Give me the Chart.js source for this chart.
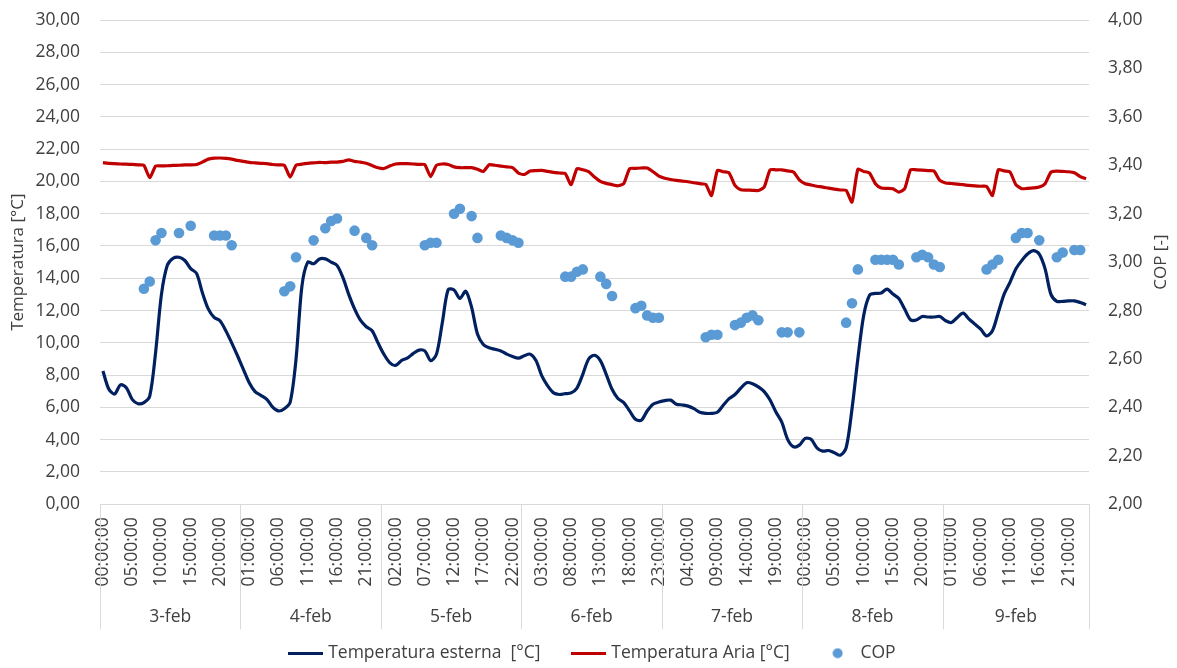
<!DOCTYPE html>
<html lang="it">
<head>
<meta charset="utf-8">
<title>Temperature e COP</title>
<script src="https://cdn.jsdelivr.net/npm/chart.js@4.4.0/dist/chart.umd.min.js"></script>
<style>
  html, body { margin: 0; padding: 0; background: #fff; }
</style>
</head>
<body>
<canvas id="grafico" width="1177" height="668"></canvas>
<script>
// giorni e numero di ore per giorno (l'ultimo gruppo ha 25 righe)
const giorni = ['3-feb', '4-feb', '5-feb', '6-feb', '7-feb', '8-feb', '9-feb'];
const oreGiorno = [24, 24, 24, 24, 24, 24, 25];

// Temperatura esterna [°C], valori orari
const tempEsterna = [
    8.26, 7.14, 6.83, 7.4, 7.22, 6.5, 6.23, 6.3, 6.7, 9.4, 13.0, 14.8, 15.24, 15.3, 15.1, 14.6, 14.3, 13.1, 12.1, 11.57, 11.37, 10.75, 10.0, 9.2,
    8.36, 7.53, 6.98, 6.75, 6.5, 6.02, 5.78, 5.92, 6.33, 9.0, 13.5, 15.0, 14.9, 15.2, 15.2, 15.0, 14.8, 14.05, 13.0, 12.1, 11.4, 11.0, 10.75, 10.0,
    9.3, 8.78, 8.6, 8.9, 9.05, 9.33, 9.55, 9.5, 8.9, 9.3, 11.26, 13.3, 13.27, 12.75, 13.2, 12.2, 10.55, 9.9, 9.7, 9.6, 9.5, 9.3, 9.15, 9.05,
    9.2, 9.3, 8.9, 7.95, 7.33, 6.9, 6.8, 6.85, 6.9, 7.2, 8.05, 9.0, 9.23, 8.9, 8.05, 7.12, 6.55, 6.3, 5.78, 5.26, 5.2, 5.78, 6.2, 6.33,
    6.42, 6.45, 6.2, 6.15, 6.08, 5.92, 5.7, 5.63, 5.63, 5.7, 6.13, 6.54, 6.8, 7.19, 7.53, 7.47, 7.27, 6.98, 6.46, 5.71, 5.09, 4.02, 3.56, 3.66,
    4.08, 4.02, 3.5, 3.29, 3.33, 3.19, 3.04, 3.5, 5.9, 9.0, 11.7, 12.95, 13.06, 13.09, 13.33, 13.02, 12.75, 12.09, 11.43, 11.41, 11.63, 11.6, 11.6, 11.63,
    11.37, 11.26, 11.57, 11.84, 11.47, 11.16, 10.85, 10.43, 10.75, 11.88, 13.02, 13.75, 14.58, 15.09, 15.5, 15.71, 15.5, 14.58, 13.0, 12.57, 12.57, 12.6, 12.6, 12.5, 12.36
];

// Temperatura Aria [°C]
const tempAria = [
    21.16, 21.12, 21.1, 21.08, 21.07, 21.05, 21.02, 20.99, 20.23, 20.95, 20.96, 20.97, 20.99, 21.0, 21.02, 21.02, 21.05, 21.2, 21.38, 21.44, 21.45, 21.43, 21.38, 21.3,
    21.24, 21.18, 21.15, 21.12, 21.1, 21.05, 21.02, 21.0, 20.27, 21.0, 21.07, 21.12, 21.15, 21.18, 21.16, 21.2, 21.2, 21.24, 21.34, 21.24, 21.2, 21.12, 20.98, 20.85,
    20.8, 20.95, 21.08, 21.1, 21.1, 21.08, 21.05, 21.04, 20.3, 21.0, 21.08, 21.05, 20.9, 20.85, 20.85, 20.85, 20.75, 20.62, 21.03, 21.0, 20.95, 20.9, 20.85, 20.52,
    20.43, 20.64, 20.67, 20.68, 20.62, 20.56, 20.52, 20.48, 19.8, 20.79, 20.72, 20.6, 20.27, 20.0, 19.88, 19.8, 19.73, 19.86, 20.79, 20.81, 20.83, 20.83, 20.6, 20.33,
    20.2, 20.12, 20.06, 20.02, 19.98, 19.92, 19.86, 19.81, 19.13, 20.68, 20.6, 20.52, 19.75, 19.48, 19.46, 19.45, 19.44, 19.65, 20.72, 20.72, 20.72, 20.65, 20.58, 20.1,
    19.86, 19.78, 19.7, 19.65, 19.58, 19.52, 19.47, 19.44, 18.72, 20.75, 20.62, 20.52, 19.86, 19.59, 19.57, 19.55, 19.34, 19.55, 20.72, 20.72, 20.7, 20.67, 20.64, 20.06,
    19.9, 19.87, 19.83, 19.8, 19.75, 19.72, 19.7, 19.69, 19.13, 20.72, 20.65, 20.58, 19.8, 19.55, 19.57, 19.6, 19.65, 19.86, 20.58, 20.64, 20.62, 20.6, 20.54, 20.3, 20.17
];

// COP [-], solo nelle ore di funzionamento
const cop = [
    null, null, null, null, null, null, null, 2.89, 2.92, 3.09, 3.12, null, null, 3.12, null, 3.15, null, null, null, 3.11, 3.11, 3.11, 3.07, null,
    null, null, null, null, null, null, null, 2.88, 2.90, 3.02, null, null, 3.09, null, 3.14, 3.17, 3.18, null, null, 3.13, null, 3.10, 3.07, null,
    null, null, null, null, null, null, null, 3.07, 3.08, 3.08, null, null, 3.20, 3.22, null, 3.19, 3.10, null, null, null, 3.11, 3.10, 3.09, 3.08,
    null, null, null, null, null, null, null, 2.94, 2.94, 2.96, 2.97, null, null, 2.94, 2.91, 2.86, null, null, null, 2.81, 2.82, 2.78, 2.77, 2.77,
    null, null, null, null, null, null, null, 2.69, 2.70, 2.70, null, null, 2.74, 2.75, 2.77, 2.78, 2.76, null, null, null, 2.71, 2.71, null, 2.71,
    null, null, null, null, null, null, null, 2.75, 2.83, 2.97, null, null, 3.01, 3.01, 3.01, 3.01, 2.99, null, null, 3.02, 3.03, 3.02, 2.99, 2.98,
    null, null, null, null, null, null, null, 2.97, 2.99, 3.01, null, null, 3.10, 3.12, 3.12, null, 3.09, null, null, 3.02, 3.04, null, 3.05, 3.05, null
];

const GRIGIO = '#D9D9D9';
const TESTO = '#404040';
const FONT = '"Open Sans", sans-serif';
const TRASPARENTE = 'rgba(0,0,0,0)';

// etichette orarie della categoria
const etichette = [];
oreGiorno.forEach(n => {
    for (let h = 0; h < n; h++) {
        etichette.push(String(h % 24).padStart(2, '0') + ':00:00');
    }
});

const virgola = v => v.toFixed(2).replace('.', ',');

// icone della legenda
function iconaLinea(colore) {
    const c = document.createElement('canvas');
    c.width = 35;
    c.height = 3;
    const g = c.getContext('2d');
    g.fillStyle = colore;
    g.fillRect(0, 0, 35, 3);
    return c;
}
function iconaPunto(colore) {
    const c = document.createElement('canvas');
    c.width = 11;
    c.height = 11;
    const g = c.getContext('2d');
    g.fillStyle = colore;
    g.beginPath();
    g.arc(5.5, 5.5, 5, 0, Math.PI * 2);
    g.fill();
    return c;
}
const iconeLegenda = [iconaLinea('#002060'), iconaLinea('#C00000'), iconaPunto('#5B9BD5')];

// secondo livello dell'asse x (giorni) e titolo dell'asse destro
const assiExtra = {
    id: 'assiExtra',
    afterDraw(chart) {
        const {ctx, chartArea, scales: {x, y1}} = chart;
        const passo = x.getPixelForValue(1) - x.getPixelForValue(0);
        const y0 = chartArea.bottom;
        ctx.save();
        ctx.strokeStyle = GRIGIO;
        ctx.lineWidth = 1;
        ctx.fillStyle = TESTO;
        ctx.font = '17.5px ' + FONT;
        ctx.textAlign = 'center';
        ctx.textBaseline = 'middle';

        const linea = px => {
            const xx = Math.round(px) + 0.5;
            ctx.beginPath();
            ctx.moveTo(xx, y0);
            ctx.lineTo(xx, y0 + 125);
            ctx.stroke();
        };

        let inizio = 0;
        giorni.forEach((g, k) => {
            const xa = x.getPixelForValue(inizio) - passo / 2;
            const xb = x.getPixelForValue(inizio + oreGiorno[k] - 1) + passo / 2;
            linea(xa);
            ctx.fillText(g, (xa + xb) / 2, y0 + 113);
            if (k === giorni.length - 1) linea(xb);
            inizio += oreGiorno[k];
        });

        ctx.font = '17px ' + FONT;
        ctx.translate(y1.right - 15.5, (chartArea.top + chartArea.bottom) / 2);
        ctx.rotate(-Math.PI / 2);
        ctx.fillText('COP [-]', 0, 0);
        ctx.restore();
    }
};

Chart.defaults.font.family = FONT;
Chart.defaults.color = TESTO;

new Chart(document.getElementById('grafico'), {
    type: 'line',
    data: {
        labels: etichette,
        datasets: [
            {
                label: 'Temperatura esterna  [°C]',
                data: tempEsterna,
                yAxisID: 'y',
                borderColor: '#002060',
                backgroundColor: '#002060',
                borderWidth: 3.2,
                pointRadius: 0,
                tension: 0.3
            },
            {
                label: 'Temperatura Aria [°C]',
                data: tempAria,
                yAxisID: 'y',
                borderColor: '#C00000',
                backgroundColor: '#C00000',
                borderWidth: 3.2,
                pointRadius: 0,
                tension: 0.2
            },
            {
                label: 'COP',
                data: cop,
                yAxisID: 'y1',
                showLine: false,
                pointRadius: 5.3,
                pointBorderWidth: 0,
                pointBackgroundColor: '#5B9BD5',
                borderColor: '#5B9BD5',
                backgroundColor: '#5B9BD5'
            }
        ]
    },
    options: {
        responsive: false,
        devicePixelRatio: 1,
        animation: false,
        layout: { padding: { left: 10, top: 20, right: 0, bottom: -4 } },
        plugins: {
            tooltip: { enabled: false },
            legend: {
                position: 'bottom',
                labels: {
                    usePointStyle: true,
                    pointStyleWidth: 28,
                    padding: 34,
                    color: TESTO,
                    font: { size: 17.5 },
                    generateLabels(chart) {
                        const voci = Chart.defaults.plugins.legend.labels.generateLabels(chart);
                        voci.forEach((v, i) => { v.pointStyle = iconeLegenda[i]; });
                        return voci;
                    }
                }
            }
        },
        scales: {
            x: {
                type: 'category',
                offset: true,
                grid: { display: false, drawTicks: false },
                border: { display: true, color: GRIGIO, width: 1 },
                ticks: {
                    autoSkip: false,
                    minRotation: 90,
                    maxRotation: 90,
                    padding: 13,
                    color: TESTO,
                    font: { size: 17.5 },
                    callback: function (v, i) {
                        return i % 5 === 0 ? this.getLabelForValue(v) : '';
                    }
                },
                afterFit: s => { s.height = 106.25; }
            },
            y: {
                position: 'left',
                min: 0,
                max: 30,
                grid: { color: GRIGIO, lineWidth: 1, drawTicks: true, tickLength: 20, tickColor: TRASPARENTE },
                border: { display: false },
                ticks: { stepSize: 2, padding: 0, color: TESTO, font: { size: 17.5 }, callback: v => virgola(v) },
                title: {
                    display: true,
                    text: 'Temperatura [°C]',
                    color: TESTO,
                    font: { size: 17, lineHeight: 1 },
                    padding: 0
                },
                afterFit: s => { s.width = 90; }
            },
            y1: {
                position: 'right',
                min: 2,
                max: 4,
                grid: { drawOnChartArea: false, drawTicks: true, tickLength: 19, tickColor: TRASPARENTE },
                border: { display: false },
                ticks: { stepSize: 0.2, padding: 0, color: TESTO, font: { size: 17.5 }, callback: v => virgola(v) },
                afterFit: s => { s.width = 88; }
            }
        }
    },
    plugins: [assiExtra]
});
</script>
</body>
</html>
